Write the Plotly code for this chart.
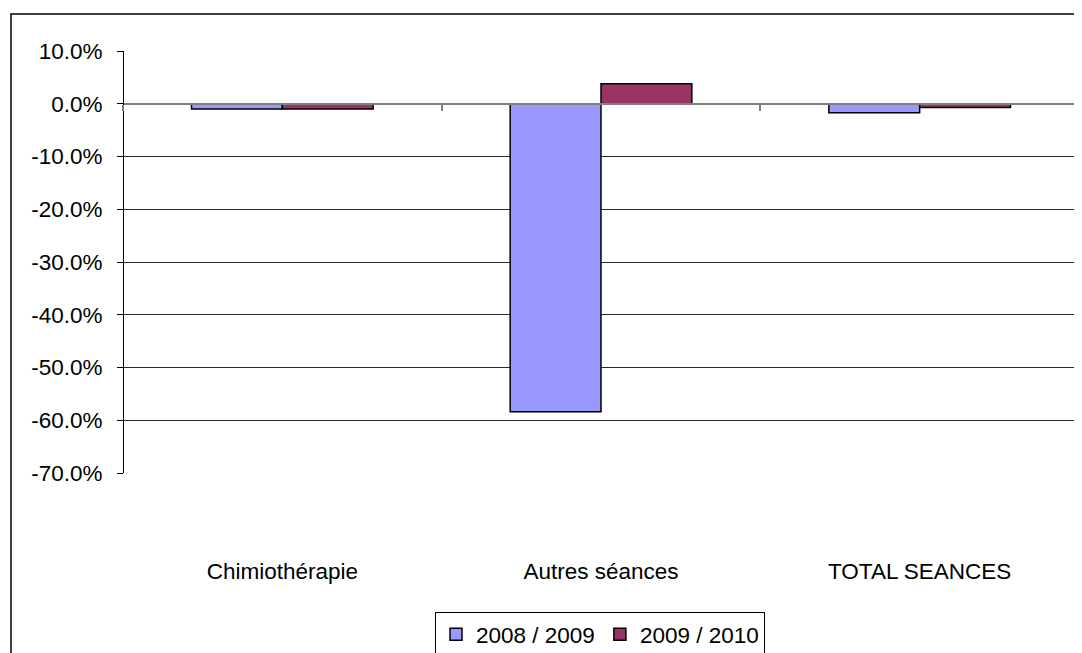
import plotly.graph_objects as go

categories = ["Chimiothérapie", "Autres séances", "TOTAL SEANCES"]
series_names = ["2008 / 2009", "2009 / 2010"]
values_2008_2009 = [-0.010, -0.584, -0.017]
values_2009_2010 = [-0.010, 0.038, -0.007]
tick_vals = [0.1, 0.0, -0.1, -0.2, -0.3, -0.4, -0.5, -0.6, -0.7]
tick_text = ["10.0%", "0.0%", "-10.0%", "-20.0%", "-30.0%", "-40.0%", "-50.0%", "-60.0%", "-70.0%"]

colors = ["#9999FF", "#993366"]
FONT = "Liberation Sans, Arial, sans-serif"
FS = 22.5

# page body has an 8px margin; figure coordinates = screen - 8
W, H = 1074, 645
L, R, T, B = 115, 3, 43, 98
plot_h = H - T - B
plot_w = W - L - R
d0 = (H - B - 465) / plot_h
zero_pos = d0 + (0.7 / 0.8) * (1 - d0)

fig = go.Figure()
for name, vals, c in zip(series_names, [values_2008_2009, values_2009_2010], colors):
    fig.add_trace(go.Bar(
        x=categories, y=vals, name=name,
        marker=dict(color=c, line=dict(color="black", width=1.5)),
        xaxis="x", yaxis="y",
    ))
fig.add_trace(go.Scatter(x=[], y=[], xaxis="x2", yaxis="y", showlegend=False, hoverinfo="skip"))

fig.update_layout(
    width=W, height=H,
    margin=dict(l=L, r=R, t=T, b=B, autoexpand=False),
    paper_bgcolor="white", plot_bgcolor="white",
    font=dict(family=FONT, size=FS, color="black"),
    barmode="group", bargap=0.43, bargroupgap=0,
    xaxis=dict(
        type="category", categoryorder="array", categoryarray=categories,
        range=[-0.5, 2.5], anchor="free", position=zero_pos, automargin=False,
        showline=True, linecolor="#808080", linewidth=1.5,
        ticks="outside", ticklen=6, tickcolor="#808080", tickwidth=1.5,
        tickson="boundaries", showticklabels=False, showgrid=False, zeroline=False,
    ),
    xaxis2=dict(
        overlaying="x", anchor="free", position=0, range=[-0.5, 2.5], automargin=False,
        tickmode="array", tickvals=[0, 1, 2], ticktext=categories,
        showline=False, showgrid=False, zeroline=False, ticks="",
        tickfont=dict(family=FONT, size=FS, color="black"),
    ),
    yaxis=dict(
        domain=[d0, 1], range=[-0.7, 0.1], automargin=False,
        tickmode="array", tickvals=tick_vals, ticktext=tick_text,
        anchor="free", position=0,
        showline=True, linecolor="black", linewidth=1,
        ticks="outside", ticklen=6, tickcolor="black",
        ticklabelstandoff=10,
        showgrid=True, gridcolor="#2a2a2a", gridwidth=1, zeroline=False,
        tickfont=dict(family=FONT, size=FS, color="black"),
    ),
    legend=dict(
        orientation="h", x=(592 - L) / plot_w, xanchor="center",
        y=(H - B - 604) / plot_h, yanchor="top",
        bordercolor="black", borderwidth=1,
        font=dict(family=FONT, size=FS, color="black"),
        itemwidth=30, tracegroupgap=0,
    ),
    shapes=[dict(
        type="rect", xref="paper", yref="paper",
        x0=(3 - L) / plot_w, x1=1.05,
        y0=-0.3, y1=1 + (T - 6) / plot_h,
        line=dict(color="black", width=1.5), layer="below",
    )],
    showlegend=True,
)

fig.write_html("out.html")
